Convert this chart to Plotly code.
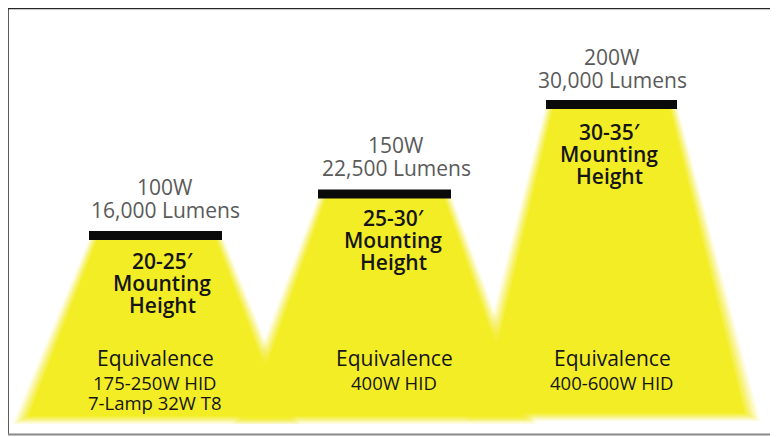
import plotly.graph_objects as go

# ---- data ----
watts = ["100W", "150W", "200W"]
lumens = ["16,000 Lumens", "22,500 Lumens", "30,000 Lumens"]
mount_heights = ["20-25′", "25-30′", "30-35′"]
equivalence = [["175-250W HID", "7-Lamp 32W T8"], ["400W HID"], ["400-600W HID"]]

# ---- geometry (pixel-space layout) ----
W, H = 778, 437
OFF = 8  # page body margin compensation
cone_top_y = [240, 198, 109]
cone_top_l = [95, 324, 551]
cone_top_r = [218, 446, 672]
cone_bot_y = [418, 418, 415]
cone_bot_l = [25, 245, 478]
cone_bot_r = [287, 524, 748]
bar_l = [89, 318, 546]
bar_r = [222, 451, 677]
bar_y = [235.5, 194, 104.5]
text_cx = [165, 396, 612]
eq_cx = [155, 394, 612]
watt_y = [187, 145, 57]
mount_y0 = [261, 218, 132]
eq_y = 358

YEL = (243, 237, 38)

fig = go.Figure()

layers = [(12, 0.15), (9, 0.2), (6, 0.25), (3, 0.35), (0, 0.5), (-3, 1.0)]
for e, a in layers:
    for i in range(3):
        xs = [cone_top_l[i] - e * 0.5, cone_top_r[i] + e * 0.5,
              cone_bot_r[i] + e, cone_bot_l[i] - e, cone_top_l[i] - e * 0.5]
        ys = [cone_top_y[i], cone_top_y[i], cone_bot_y[i] + e * 0.5,
              cone_bot_y[i] + e * 0.5, cone_top_y[i]]
        fig.add_trace(go.Scatter(
            x=xs, y=ys, mode="lines", fill="toself",
            fillcolor=f"rgba({YEL[0]},{YEL[1]},{YEL[2]},{a})",
            line=dict(width=0), hoverinfo="skip", showlegend=False))

for i in range(3):
    fig.add_trace(go.Scatter(
        x=[bar_l[i], bar_r[i]], y=[bar_y[i], bar_y[i]], mode="lines",
        line=dict(color="#0a0a0a", width=9), hoverinfo="skip", showlegend=False))

fig.add_trace(go.Scatter(x=[790, 7.5, 7.5], y=[8, 8, 434], mode="lines",
                         line=dict(color="#262626", width=2.5),
                         hoverinfo="skip", showlegend=False))
fig.add_trace(go.Scatter(x=[7.5, 790], y=[434.5, 434.5], mode="lines",
                         line=dict(color="#8a8a8a", width=2),
                         hoverinfo="skip", showlegend=False))

FONT = "Open Sans"
ann = []
def add(x, y, t, size, color, weight=400):
    ann.append(dict(x=x, y=y, text=t, xref="x", yref="y", showarrow=False,
                    xanchor="center", yanchor="middle",
                    font=dict(family=FONT, size=size, color=color, weight=weight)))

for i in range(3):
    add(text_cx[i], watt_y[i], watts[i], 21, "#5a5a5a")
    add(text_cx[i], watt_y[i] + 23, lumens[i], 21, "#5a5a5a")
    add(text_cx[i] - 3, mount_y0[i], mount_heights[i], 21, "#151515", 600)
    add(text_cx[i] - 3, mount_y0[i] + 22, "Mounting", 21, "#151515", 600)
    add(text_cx[i] - 3, mount_y0[i] + 44, "Height", 21, "#151515", 600)
    add(eq_cx[i], eq_y, "Equivalence", 21, "#151515", 500)
    for j, line in enumerate(equivalence[i]):
        add(eq_cx[i], eq_y + 24 + j * 20, line, 18.5, "#151515", 500)

fig.update_layout(
    width=W - OFF, height=H - OFF, margin=dict(l=0, r=0, t=0, b=0),
    paper_bgcolor="white", plot_bgcolor="white",
    xaxis=dict(range=[OFF, W], visible=False, fixedrange=True),
    yaxis=dict(range=[H, OFF], visible=False, fixedrange=True),
    annotations=ann, showlegend=False,
)
fig.write_html("out.html")
